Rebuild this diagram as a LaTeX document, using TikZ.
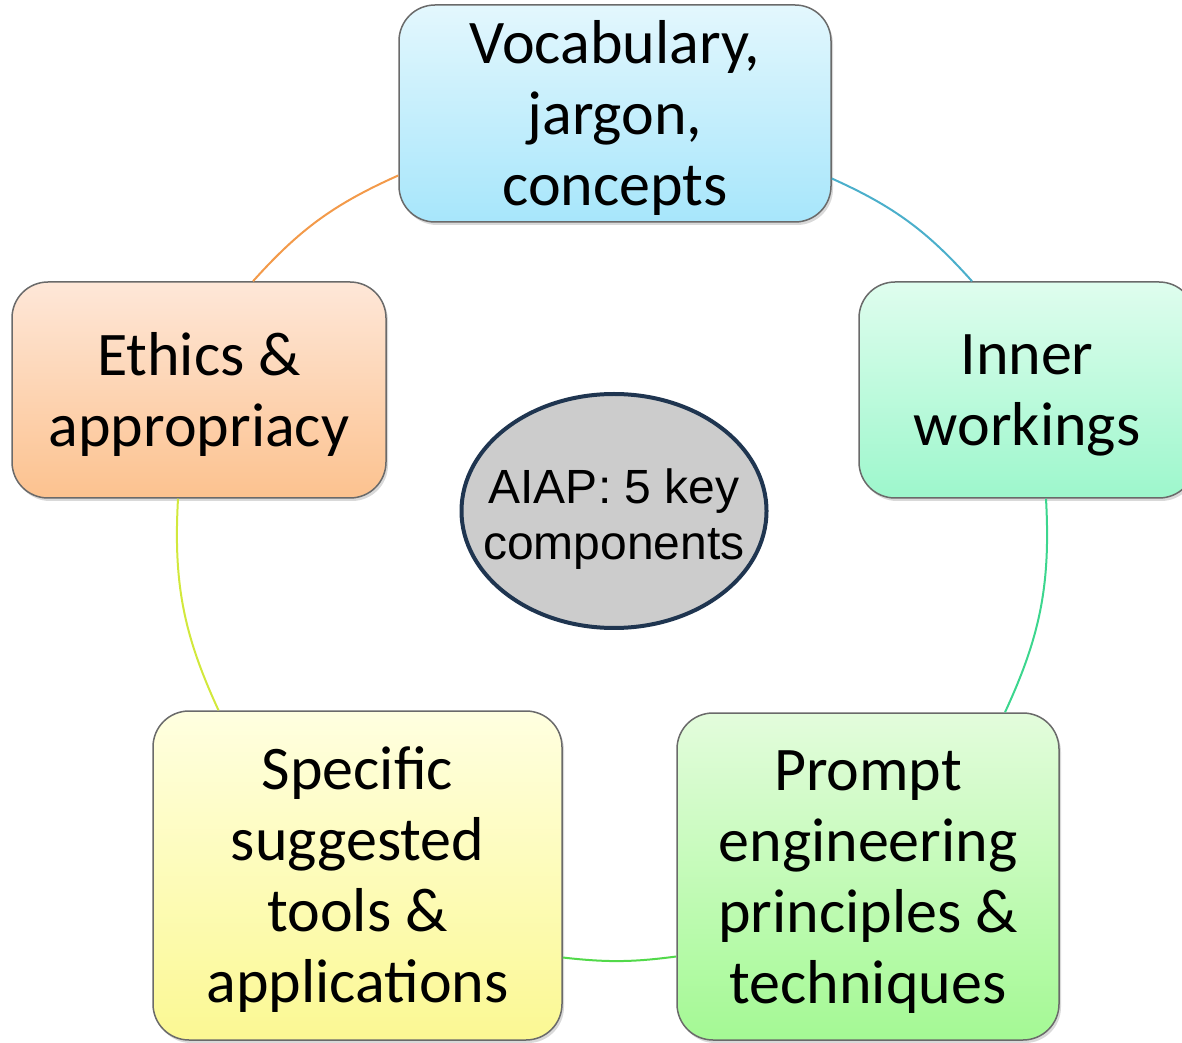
\documentclass[tikz,border=0pt]{standalone}
\usepackage{fontspec}
\setmainfont{Carlito}
\newfontfamily\arialfont{Liberation Sans}
\usepackage{tikz}
\usetikzlibrary{shapes.geometric}
\usetikzlibrary{shadows}

\definecolor{boxgray}{HTML}{6A6A6A}
\definecolor{navy}{HTML}{1F3550}
\definecolor{vocTop}{HTML}{E3F7FD}
\definecolor{vocBot}{HTML}{A7E6FB}
\definecolor{inwTop}{HTML}{DFFDEE}
\definecolor{inwBot}{HTML}{9DF7CC}
\definecolor{peTop}{HTML}{E3FCDC}
\definecolor{peBot}{HTML}{A4F994}
\definecolor{toolTop}{HTML}{FFFFE0}
\definecolor{toolBot}{HTML}{FBF893}
\definecolor{ethTop}{HTML}{FEE7D8}
\definecolor{ethBot}{HTML}{FCC28F}
\definecolor{arcA}{HTML}{F39A4A}
\definecolor{arcB}{HTML}{4BAFCB}
\definecolor{arcC}{HTML}{3CD68E}
\definecolor{arcD}{HTML}{52D94A}
\definecolor{arcE}{HTML}{D2E83C}

% pads the first line so the text sits a little lower in its box
\newcommand{\toppad}{\rule{0pt}{\dimexpr\fontcharht\font`\l+8pt\relax}}

\begin{document}
\begin{tikzpicture}[x=1pt,y=1pt,
  box/.style={draw=boxgray,line width=1.5pt,rounded corners=36pt,inner sep=0pt,align=center,
    font=\fontsize{62}{71}\selectfont,
    drop shadow={shadow xshift=2pt,shadow yshift=-3pt,opacity=0.3}},
  link/.style={line width=2pt}]
  \useasboundingbox (0,0) rectangle (1182,1042);
  \clip (0,0) rectangle (1182,1042);
  \node[box,top color=vocTop,bottom color=vocBot,minimum width=432pt,minimum height=217pt] (voc) at (615,928.5) {\toppad Vocabulary,\\jargon,\\concepts};
  \node[box,top color=inwTop,bottom color=inwBot,minimum width=336pt,minimum height=216pt] (inw) at (1027,652) {\toppad Inner\\workings};
  \node[box,top color=peTop,bottom color=peBot,minimum width=382pt,minimum height=327pt] (pe) at (868,165.5) {\toppad Prompt\\engineering\\principles \&\\techniques};
  \node[box,top color=toolTop,bottom color=toolBot,minimum width=409pt,minimum height=329pt] (tools) at (357.5,166.5) {\toppad Specific\\suggested\\tools \&\\applications};
  \node[box,top color=ethTop,bottom color=ethBot,minimum width=374pt,minimum height=216pt] (eth) at (199,652) {\toppad Ethics \&\\appropriacy};
  \node[ellipse,draw=navy,line width=4pt,fill=black!20,inner sep=0pt,minimum width=305pt,minimum height=234pt,
    font=\arialfont\fontsize{48}{56}\selectfont] (aiap) at (614,531)
    {\makebox[0pt]{\smash{\raisebox{-16pt}{\begin{tabular}{@{}c@{}}AIAP: 5 key\\components\end{tabular}}}}};
  % arcs round the cycle
  \coordinate (a1) at ([xshift=54pt]eth.north);
  \coordinate (b1) at ([yshift=-62pt]voc.west);
  \coordinate (a2) at ([yshift=-65pt]voc.east);
  \coordinate (b2) at ([xshift=-55pt]inw.north);
  \coordinate (a3) at ([xshift=19pt]inw.south);
  \coordinate (b3) at ([xshift=137pt]pe.north);
  \coordinate (a4) at ([yshift=-80pt]pe.west);
  \coordinate (b4) at ([yshift=-82pt]tools.east);
  \coordinate (a5) at ([xshift=-139pt]tools.north);
  \coordinate (b5) at ([xshift=-21pt]eth.south);
  \draw[link,arcA] (a1) to[bend left=12] (b1);
  \draw[link,arcB] (a2) to[bend left=12] (b2);
  \draw[link,arcC] (a3) to[bend left=14] (b3);
  \draw[link,arcD] (a4) to[bend left=7] (b4);
  \draw[link,arcE] (a5) to[bend left=14] (b5);
\end{tikzpicture}
\end{document}
